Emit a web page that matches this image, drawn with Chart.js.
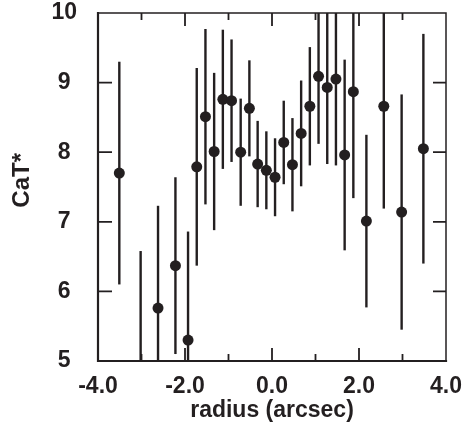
<!DOCTYPE html>
<html>
<head>
<meta charset="utf-8">
<title>CaT* vs radius</title>
<script src="https://cdn.jsdelivr.net/npm/chart.js@4.4.1/dist/chart.umd.min.js"></script>
<style>
    html, body { margin: 0; padding: 0; background: #ffffff; }
    canvas { display: block; }
</style>
</head>
<body>
<canvas id="catChart" width="464" height="436"></canvas>
<script>
// values
const radius = [-3.51, -3.02, -2.62, -2.22, -1.93, -1.73, -1.53, -1.33, -1.13, -0.93,
                -0.72, -0.52, -0.33, -0.13, 0.07, 0.27, 0.47, 0.67, 0.87, 1.07,
                1.27, 1.47, 1.67, 1.87, 2.17, 2.57, 2.98, 3.48];
const catIndex = [7.70, 4.85, 5.76, 6.37, 5.30, 7.79, 8.51, 8.01, 8.76, 8.74,
                  8.00, 8.63, 7.83, 7.74, 7.64, 8.14, 7.82, 8.27, 8.66, 9.09,
                  8.93, 9.05, 7.96, 8.87, 7.01, 8.66, 7.14, 8.05];
const catError = [1.60, 1.73, 1.47, 1.27, 1.56, 1.42, 1.26, 1.13, 1.00, 0.88,
                  0.77, 0.69, 0.62, 0.56, 0.56, 0.60, 0.67, 0.76, 0.85, 0.97,
                  1.10, 1.24, 1.37, 1.53, 1.24, 1.47, 1.69, 1.65];
const xTicks = [-4, -2, 0, 2, 4];
const yTicks = [5, 6, 7, 8, 9, 10];

document.addEventListener('DOMContentLoaded', () => {
    const ink = '#231f20';
    const fontFamily = "'Liberation Sans', Arial, Helvetica, sans-serif";

    // stop the scales from reserving room for overhanging end labels
    function noPadding(scale) {
        scale.paddingTop = 0;
        scale.paddingBottom = 0;
        scale.paddingLeft = 0;
        scale.paddingRight = 0;
    }

    // vertical error bars, drawn under the points
    const errorBars = {
        id: 'errorBars',
        beforeDatasetsDraw(chart) {
            const { ctx, chartArea, scales } = chart;
            ctx.save();
            ctx.beginPath();
            ctx.rect(chartArea.left, chartArea.top, chartArea.right - chartArea.left, chartArea.bottom - chartArea.top);
            ctx.clip();
            ctx.strokeStyle = ink;
            ctx.lineWidth = 2.4;
            radius.forEach((r, i) => {
                const px = scales.x.getPixelForValue(r);
                const top = scales.y.getPixelForValue(catIndex[i] + catError[i]);
                const bottom = scales.y.getPixelForValue(catIndex[i] - catError[i]);
                ctx.beginPath();
                ctx.moveTo(px, top);
                ctx.lineTo(px, bottom);
                ctx.stroke();
            });
            ctx.restore();
        }
    };

    // closed frame with inward ticks on all four sides
    const frame = {
        id: 'frame',
        afterDraw(chart) {
            const { ctx, chartArea: a, scales } = chart;
            ctx.save();
            ctx.strokeStyle = ink;
            ctx.lineCap = 'square';

            ctx.lineWidth = 1.5;
            ctx.beginPath();
            ctx.moveTo(a.left, a.top);
            ctx.lineTo(a.right, a.top);
            ctx.lineTo(a.right, a.bottom);
            ctx.stroke();

            ctx.lineWidth = 2.2;
            ctx.beginPath();
            ctx.moveTo(a.left, a.top);
            ctx.lineTo(a.left, a.bottom);
            ctx.lineTo(a.right, a.bottom);
            ctx.stroke();

            ctx.lineWidth = 1.8;
            ctx.lineCap = 'butt';
            for (let v = -3; v <= 3; v++) {
                const px = scales.x.getPixelForValue(v);
                const len = v % 2 === 0 ? 13 : 7;
                ctx.beginPath();
                ctx.moveTo(px, a.bottom);
                ctx.lineTo(px, a.bottom - len);
                ctx.moveTo(px, a.top);
                ctx.lineTo(px, a.top + len);
                ctx.stroke();
            }
            yTicks.slice(1, -1).forEach(v => {
                const py = scales.y.getPixelForValue(v);
                ctx.beginPath();
                ctx.moveTo(a.left, py);
                ctx.lineTo(a.left + 14, py);
                ctx.moveTo(a.right, py);
                ctx.lineTo(a.right - 13, py);
                ctx.stroke();
            });
            ctx.restore();
        }
    };

    const ctx = document.getElementById('catChart').getContext('2d');
    new Chart(ctx, {
        type: 'scatter',
        data: {
            datasets: [{
                data: radius.map((r, i) => ({ x: r, y: catIndex[i] })),
                backgroundColor: ink,
                borderWidth: 0,
                pointRadius: 5.5,
                pointHoverRadius: 5.5,
                clip: 0
            }]
        },
        options: {
            responsive: false,
            animation: false,
            layout: { padding: { top: 13, right: 18, bottom: 0, left: 0 } },
            plugins: {
                legend: { display: false },
                tooltip: { enabled: false }
            },
            scales: {
                x: {
                    type: 'linear',
                    min: -4,
                    max: 4,
                    afterFit: scale => { scale.height = 75; noPadding(scale); },
                    afterBuildTicks: scale => { scale.ticks = xTicks.map(v => ({ value: v })); },
                    grid: { display: false, drawTicks: false },
                    border: { display: false },
                    ticks: {
                        padding: 12,
                        color: ink,
                        font: { family: fontFamily, size: 23, weight: 'bold' },
                        callback: v => v.toFixed(1)
                    },
                    title: {
                        display: true,
                        text: 'radius (arcsec)',
                        color: ink,
                        font: { family: fontFamily, size: 23, weight: 'bold' },
                        padding: { top: 0, bottom: 12 }
                    }
                },
                y: {
                    type: 'linear',
                    min: 5,
                    max: 10,
                    afterFit: scale => { scale.width = 98; noPadding(scale); },
                    afterBuildTicks: scale => { scale.ticks = yTicks.map(v => ({ value: v })); },
                    grid: { display: false, drawTicks: false },
                    border: { display: false },
                    ticks: {
                        padding: 21,
                        crossAlign: 'center',
                        color: ink,
                        font: { family: fontFamily, size: 23, weight: 'bold' }
                    },
                    title: {
                        display: true,
                        text: '  CaT*',
                        color: ink,
                        font: { family: fontFamily, size: 24, weight: 'bold' },
                        padding: { top: 8, bottom: 0 }
                    }
                }
            }
        },
        plugins: [errorBars, frame]
    });
});
</script>
</body>
</html>
